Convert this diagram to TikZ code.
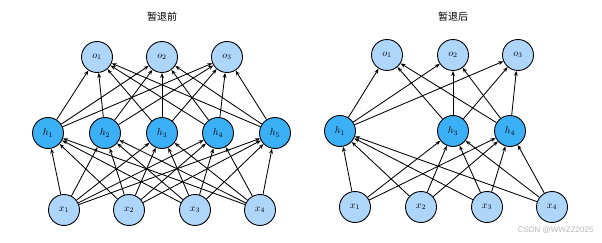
\documentclass[tikz,border=0pt]{standalone}
\usepackage{fontspec}
\newfontfamily\cjk{Noto Sans CJK SC}
\newfontfamily\wmfont{Liberation Sans}
\usetikzlibrary{arrows.meta}
\definecolor{lightblu}{HTML}{AED6FB}
\definecolor{darkblu}{HTML}{3CB0F6}
\tikzset{
  neu/.style={draw, circle, line width=0.9pt, minimum size=31pt, inner sep=0pt,
              font=\normalsize},
  inp/.style={neu, fill=lightblu},
  hid/.style={neu, fill=darkblu},
  sig/.style={-{Stealth[length=5pt,width=3.8pt]}, line width=0.85pt},
  ttl/.style={font=\cjk\normalsize, inner sep=1pt},
}
\begin{document}
\begin{tikzpicture}[x=1pt,y=-1pt]
    \useasboundingbox (0,0) rectangle (602,243);
    % before dropout
    \node[ttl] (t0) at (162,17) {暂退前};
    \node[inp] (lo1) at (97,57) {$o_1$};
    \node[inp] (lo2) at (162,57) {$o_2$};
    \node[inp] (lo3) at (227,57) {$o_3$};
    \node[hid] (lh1) at (48,133) {$h_1$};
    \node[hid] (lh2) at (105,133) {$h_2$};
    \node[hid] (lh3) at (162,133) {$h_3$};
    \node[hid] (lh4) at (218,133) {$h_4$};
    \node[hid] (lh5) at (275,133) {$h_5$};
    \node[inp] (lx1) at (64,210) {$x_1$};
    \node[inp] (lx2) at (129,210) {$x_2$};
    \node[inp] (lx3) at (195,210) {$x_3$};
    \node[inp] (lx4) at (260,210) {$x_4$};
    \foreach \h in {1,...,5} {
      \foreach \i in {1,...,4} \draw[sig] (lx\i)--(lh\h);
      \foreach \o in {1,2,3} \draw[sig] (lh\h)--(lo\o);
    }
    % after dropout
    \node[ttl] (t1) at (453,17) {暂退后};
    \node[inp] (ro1) at (387,55) {$o_1$};
    \node[inp] (ro2) at (453,55) {$o_2$};
    \node[inp] (ro3) at (518,55) {$o_3$};
    \node[hid] (rh1) at (340,131) {$h_1$};
    \node[hid] (rh3) at (453,131) {$h_3$};
    \node[hid] (rh4) at (510,131) {$h_4$};
    \node[inp] (rx1) at (355,207) {$x_1$};
    \node[inp] (rx2) at (421,207) {$x_2$};
    \node[inp] (rx3) at (487,207) {$x_3$};
    \node[inp] (rx4) at (552,207) {$x_4$};
    \foreach \h in {1,3,4} {
      \foreach \i in {1,...,4} \draw[sig] (rx\i)--(rh\h);
      \foreach \o in {1,2,3} \draw[sig] (rh\h)--(ro\o);
    }
    \node[font=\wmfont\footnotesize, text=black!28, anchor=east] (wm) at (597,230) {CSDN @WWZZ2025};
\end{tikzpicture}
\end{document}
